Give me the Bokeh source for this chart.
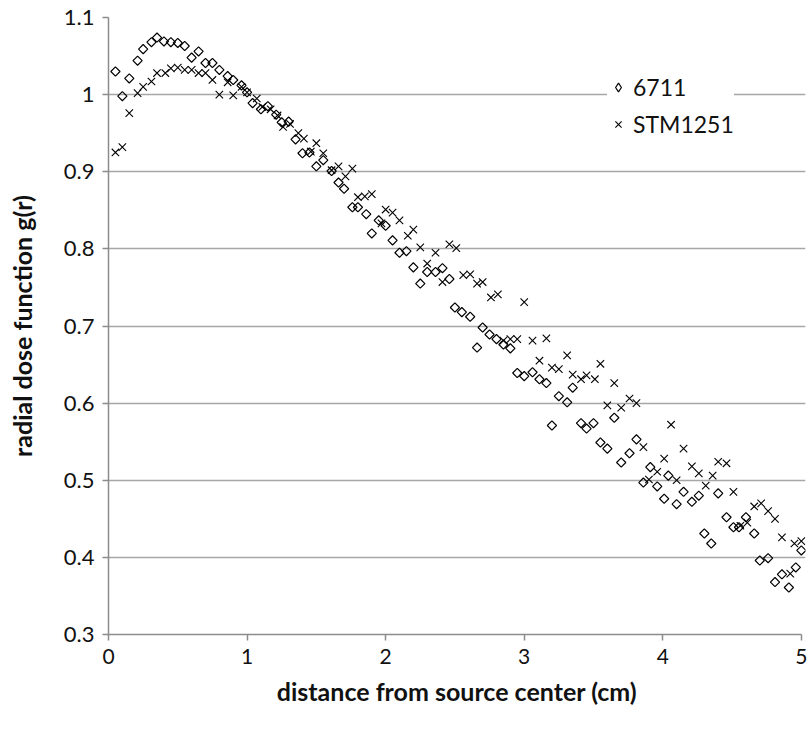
from bokeh.plotting import figure
from bokeh.models import (Range1d, FixedTicker, CustomJSTickFormatter, Legend,
                          LegendItem, ColumnDataSource)
from bokeh.embed import file_html
from bokeh.resources import INLINE
import math

# ---- data ----
x_6711 = [0.05, 0.10, 0.15, 0.21, 0.25, 0.31, 0.35, 0.40, 0.45, 0.50, 0.55, 0.60, 0.65,
          0.70, 0.75, 0.80, 0.86, 0.90, 0.96, 1.00, 1.04, 1.10, 1.15, 1.21, 1.25, 1.30,
          1.35, 1.40, 1.45, 1.50, 1.55, 1.61, 1.66, 1.70, 1.76, 1.80, 1.86, 1.90, 1.95,
          2.00, 2.05, 2.10, 2.15, 2.20, 2.25, 2.30, 2.36, 2.41, 2.46, 2.50, 2.55, 2.61,
          2.66, 2.70, 2.75, 2.80, 2.85, 2.90, 2.95, 3.00, 3.06, 3.11, 3.16, 3.20, 3.25,
          3.31, 3.35, 3.41, 3.45, 3.50, 3.55, 3.60, 3.65, 3.70, 3.76, 3.81, 3.86, 3.91,
          3.96, 4.01, 4.04, 4.10, 4.15, 4.21, 4.26, 4.30, 4.35, 4.40, 4.46, 4.51, 4.55,
          4.60, 4.66, 4.70, 4.76, 4.81, 4.86, 4.91, 4.96, 5.00]
g_6711 = [1.030, 0.998, 1.021, 1.044, 1.059, 1.068, 1.074, 1.069, 1.068, 1.067, 1.063, 1.048,
          1.056, 1.041, 1.041, 1.032, 1.024, 1.019, 1.012, 1.003, 0.989, 0.981, 0.985, 0.974,
          0.964, 0.965, 0.942, 0.924, 0.925, 0.907, 0.915, 0.901, 0.886, 0.878, 0.854, 0.854,
          0.845, 0.820, 0.837, 0.830, 0.811, 0.795, 0.797, 0.776, 0.755, 0.770, 0.770, 0.775,
          0.761, 0.724, 0.718, 0.712, 0.672, 0.698, 0.689, 0.683, 0.676, 0.671, 0.639, 0.635,
          0.640, 0.631, 0.626, 0.571, 0.609, 0.601, 0.620, 0.574, 0.567, 0.574, 0.549, 0.541,
          0.581, 0.523, 0.535, 0.553, 0.497, 0.517, 0.492, 0.476, 0.506, 0.469, 0.485, 0.472,
          0.480, 0.431, 0.418, 0.483, 0.452, 0.439, 0.439, 0.452, 0.431, 0.396, 0.399, 0.368,
          0.378, 0.361, 0.387, 0.409]

x_stm = [0.05, 0.10, 0.15, 0.21, 0.25, 0.31, 0.35, 0.41, 0.45, 0.50, 0.55, 0.60, 0.65, 0.70,
         0.75, 0.80, 0.86, 0.90, 0.96, 1.00, 1.07, 1.11, 1.17, 1.22, 1.26, 1.31, 1.37, 1.41,
         1.46, 1.50, 1.55, 1.61, 1.66, 1.71, 1.76, 1.80, 1.85, 1.90, 1.97, 2.00, 2.05, 2.10,
         2.16, 2.20, 2.25, 2.30, 2.36, 2.41, 2.46, 2.51, 2.56, 2.61, 2.66, 2.70, 2.76, 2.81,
         2.85, 2.90, 2.95, 3.00, 3.06, 3.11, 3.16, 3.20, 3.25, 3.31, 3.35, 3.41, 3.45, 3.51,
         3.55, 3.60, 3.65, 3.70, 3.76, 3.81, 3.86, 3.90, 3.96, 4.01, 4.06, 4.10, 4.15, 4.21,
         4.26, 4.31, 4.36, 4.40, 4.46, 4.51, 4.56, 4.61, 4.66, 4.71, 4.76, 4.81, 4.86, 4.92,
         4.95, 5.00]
g_stm = [0.925, 0.932, 0.976, 1.002, 1.010, 1.017, 1.028, 1.028, 1.034, 1.035, 1.032, 1.032,
         1.028, 1.028, 1.019, 1.000, 1.016, 0.999, 1.010, 1.003, 0.995, 0.984, 0.981, 0.973,
         0.958, 0.962, 0.950, 0.943, 0.926, 0.937, 0.924, 0.902, 0.907, 0.894, 0.904, 0.867,
         0.868, 0.871, 0.833, 0.851, 0.847, 0.837, 0.817, 0.825, 0.802, 0.781, 0.795, 0.757,
         0.806, 0.801, 0.766, 0.767, 0.755, 0.757, 0.737, 0.741, 0.681, 0.683, 0.683, 0.731,
         0.681, 0.655, 0.684, 0.646, 0.644, 0.662, 0.637, 0.631, 0.636, 0.631, 0.651, 0.597,
         0.626, 0.594, 0.606, 0.600, 0.543, 0.501, 0.511, 0.528, 0.572, 0.500, 0.541, 0.518,
         0.509, 0.493, 0.506, 0.524, 0.522, 0.485, 0.441, 0.445, 0.466, 0.470, 0.460, 0.450,
         0.426, 0.379, 0.418, 0.421]

x_ticks = [0, 1, 2, 3, 4, 5]
y_ticks = [0.3, 0.4, 0.5, 0.6, 0.7, 0.8, 0.9, 1.0, 1.1]
series_names = ["6711", "STM1251"]
x_title = "distance from source center (cm)"
y_title = "radial dose function g(r)"

FONT = "Lato"
TXT = "#111111"
AXIS_C = "#8c8c8c"
GRID_C = "#a6a6a6"

p = figure(output_backend="svg", toolbar_location=None,
           x_range=Range1d(0, 5.03), y_range=Range1d(0.3, 1.1),
           frame_width=697, frame_height=617,
           min_border_left=108, min_border_right=6,
           min_border_top=17, min_border_bottom=96)
p.outline_line_color = None
p.background_fill_color = "white"
p.border_fill_color = "white"

src_a = ColumnDataSource(dict(x=x_6711, y=g_6711))
src_b = ColumnDataSource(dict(x=x_stm, y=g_stm))

r_a = p.scatter("x", "y", source=src_a, marker="square", angle=math.pi / 4, size=6.5,
                fill_alpha=0, line_color="#000000", line_width=1.2)
r_b = p.scatter("x", "y", source=src_b, marker="x", size=10.5,
                line_color="#000000", line_width=1.1)
# legend-only diamond swatch (legend swatches ignore marker angle); NaN = not drawn
r_a_leg = p.scatter(x=[float("nan")], y=[float("nan")], marker="diamond",
                    fill_alpha=0, line_color="#000000", line_width=1.2)

# axes
p.xaxis.ticker = FixedTicker(ticks=x_ticks)
p.yaxis.ticker = FixedTicker(ticks=y_ticks)
p.yaxis.formatter = CustomJSTickFormatter(
    code="const s = tick.toFixed(1); return s === '1.0' ? '1' : s;")
p.xaxis.formatter = CustomJSTickFormatter(code="return tick.toFixed(0);")
p.xaxis.bounds = (0, 5)
for ax in (p.xaxis[0], p.yaxis[0]):
    ax.axis_line_color = AXIS_C
    ax.axis_line_width = 1.5
    ax.major_tick_line_color = AXIS_C
    ax.major_tick_line_width = 1.5
    ax.major_tick_in = 0
    ax.major_tick_out = 6
    ax.minor_tick_line_color = None
    ax.major_label_text_font = FONT
    ax.major_label_text_font_size = "21px"
    ax.major_label_text_color = TXT
    ax.axis_label_text_font = FONT
    ax.axis_label_text_font_style = "bold"
    ax.axis_label_text_font_size = "25px"
    ax.axis_label_text_color = TXT
p.yaxis.major_label_text_font_size = "22px"
p.xaxis.axis_label = x_title
p.yaxis.axis_label = y_title
p.xaxis.major_label_standoff = 8
p.yaxis.major_label_standoff = 8
p.xaxis.axis_label_standoff = 9
p.yaxis.axis_label_standoff = 24

p.xgrid.grid_line_color = None
p.ygrid.grid_line_color = GRID_C
p.ygrid.grid_line_width = 1.5

legend = Legend(items=[LegendItem(label=series_names[0], renderers=[r_a_leg]),
                       LegendItem(label=series_names[1], renderers=[r_b])],
                location=(499, 496), orientation="vertical",
                background_fill_color="white", background_fill_alpha=1.0,
                border_line_color=None,
                label_text_font=FONT, label_text_font_size="23px",
                label_text_color=TXT,
                glyph_width=22, glyph_height=26, label_height=26,
                label_standoff=4, spacing=9, padding=12, margin=0)
p.add_layout(legend)

open("out.html", "w").write(file_html(p, INLINE))
